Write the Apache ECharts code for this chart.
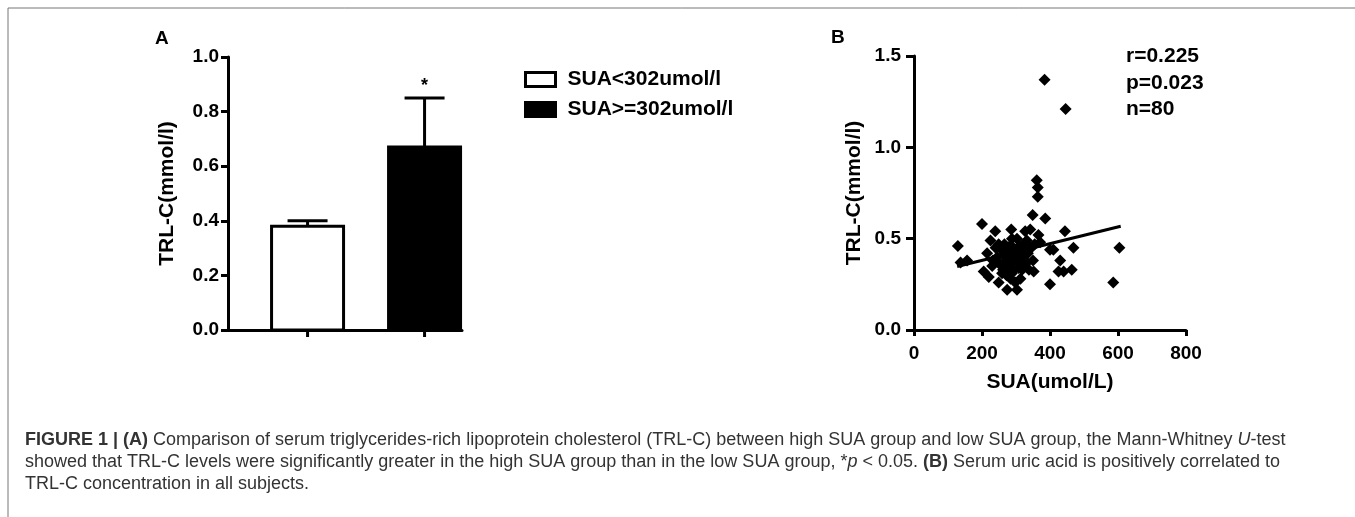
<!DOCTYPE html>
<html>
<head>
<meta charset="utf-8">
<script src="https://cdn.jsdelivr.net/npm/echarts@6/dist/echarts.min.js"></script>
<style>
  html, body { margin: 0; padding: 0; background: #fff; }
  #main { width: 1355px; height: 517px; }
</style>
</head>
<body>
<div id="main"></div>
<script>
// panel A: group means with upper error (mean + SEM)
var groups = ['SUA<302umol/l', 'SUA>=302umol/l'];
var groupMeans = [0.38, 0.67];
var groupUpper = [0.40, 0.85];
var groupSig = ['', '*'];

// panel B: SUA (umol/L) vs TRL-C (mmol/l)
var suaPoints = [
  [384, 1.37], [446, 1.21],
  [361, 0.82], [364, 0.78], [364, 0.73],
  [349, 0.63], [386, 0.61], [200, 0.58],
  [129, 0.46], [137, 0.37], [156, 0.38],
  [239, 0.54], [286, 0.55], [327, 0.54], [342, 0.55], [366, 0.52],
  [225, 0.49], [288, 0.50], [303, 0.50], [249, 0.47], [332, 0.49],
  [205, 0.32], [220, 0.29], [230, 0.35], [249, 0.26], [274, 0.22], [303, 0.22],
  [313, 0.28], [352, 0.32], [332, 0.37], [400, 0.25], [279, 0.39], [288, 0.42],
  [264, 0.41], [308, 0.34], [259, 0.31], [288, 0.31], [371, 0.48], [400, 0.44],
  [444, 0.54], [410, 0.44], [469, 0.45], [604, 0.45], [430, 0.38], [425, 0.32],
  [440, 0.32], [464, 0.33], [586, 0.26],
  [240, 0.45], [245, 0.40], [252, 0.36], [258, 0.44], [262, 0.33], [266, 0.47],
  [270, 0.38], [272, 0.30], [276, 0.43], [280, 0.35], [282, 0.46], [284, 0.28],
  [290, 0.37], [292, 0.45], [294, 0.33], [296, 0.40], [298, 0.26], [300, 0.43],
  [305, 0.38], [310, 0.46], [315, 0.40], [318, 0.33], [320, 0.44], [325, 0.36],
  [328, 0.48], [335, 0.42], [338, 0.33], [345, 0.45], [350, 0.38], [355, 0.47],
  [232, 0.38], [215, 0.42]
];
var fitLine = [[127, 0.348], [608, 0.568]];
var statLines = ['r=0.225', 'p=0.023', 'n=80'];

var captionLines = [
  '{b|FIGURE 1 | (A)} Comparison of serum triglycerides-rich lipoprotein cholesterol (TRL-C) between high SUA group and low SUA group, the Mann-Whitney {i|U}-test',
  'showed that TRL-C levels were significantly greater in the high SUA group than in the low SUA group, *{i|p} < 0.05. {b|(B)} Serum uric acid is positively correlated to',
  'TRL-C concentration in all subjects.'
];

var FONT = '"Liberation Sans", Arial, Helvetica, sans-serif';
var boldText = { fontFamily: FONT, fontWeight: 'bold', fontSize: 19, color: '#000' };

var chart = echarts.init(document.getElementById('main'));

// bar + upward error bar + x tick, GraphPad style
function renderBar(params, api) {
  var gx = api.value(0) + 0.68;
  var base = api.coord([gx, 0]);
  var top = api.coord([gx, api.value(1)]);
  var err = api.coord([gx, api.value(2)]);
  var halfW = 36;
  var fill = params.seriesIndex === 0 ? '#fff' : '#000';
  var children = [
    { type: 'line', shape: { x1: top[0], y1: top[1], x2: err[0], y2: err[1] },
      style: { stroke: '#000', lineWidth: 3 } },
    { type: 'line', shape: { x1: err[0] - 20, y1: err[1], x2: err[0] + 20, y2: err[1] },
      style: { stroke: '#000', lineWidth: 3 } },
    { type: 'rect', shape: { x: base[0] - halfW, y: top[1], width: halfW * 2, height: base[1] - top[1] },
      style: { fill: fill, stroke: '#000', lineWidth: 3 } },
    { type: 'line', shape: { x1: base[0], y1: base[1], x2: base[0], y2: base[1] + 7 },
      style: { stroke: '#000', lineWidth: 3 } }
  ];
  var sig = groupSig[api.value(0)];
  if (sig) {
    children.push({ type: 'text', x: err[0], y: err[1] - 12,
      style: { text: sig, fontFamily: FONT, fontWeight: 'bold', fontSize: 18, fill: '#000',
        align: 'center', verticalAlign: 'middle' } });
  }
  return { type: 'group', children: children };
}

var barSeries = groups.map(function (g, i) {
  return {
    name: g,
    type: 'custom',
    xAxisIndex: 0,
    yAxisIndex: 0,
    renderItem: renderBar,
    itemStyle: { color: i === 0 ? '#fff' : '#000', borderColor: '#000', borderWidth: 3 },
    data: [[i, groupMeans[i], groupUpper[i]]],
    encode: { x: 0, y: [1, 2] },
    z: 3
  };
});

var graphics = [
  { type: 'line', shape: { x1: 8, y1: 8, x2: 1355, y2: 8 }, style: { stroke: '#777', lineWidth: 1 } },
  { type: 'line', shape: { x1: 8, y1: 8, x2: 8, y2: 517 }, style: { stroke: '#777', lineWidth: 1 } },
  { type: 'text', left: 155, top: 29, style: { text: 'A', font: 'bold 19px ' + FONT, fill: '#000' } },
  { type: 'text', left: 831, top: 28, style: { text: 'B', font: 'bold 19px ' + FONT, fill: '#000' } }
];
statLines.forEach(function (s, i) {
  graphics.push({ type: 'text', left: 1126, top: 46 + i * 26.5,
    style: { text: s, font: 'bold 21px ' + FONT, fill: '#000' } });
});
captionLines.forEach(function (s, i) {
  graphics.push({ type: 'text', left: 25, top: 431 + i * 22,
    style: {
      text: s, fontFamily: FONT, fontSize: 18, fill: '#333',
      rich: {
        b: { fontFamily: FONT, fontSize: 18, fontWeight: 'bold', color: '#333' },
        i: { fontFamily: FONT, fontSize: 18, fontStyle: 'italic', color: '#333' }
      }
    } });
});

var axisLineBlack = { show: true, lineStyle: { color: '#000', width: 3 } };
var nameStyle = { fontFamily: FONT, fontWeight: 'bold', fontSize: 21, color: '#000' };

chart.setOption({
  animation: false,
  backgroundColor: '#fff',
  legend: {
    orient: 'vertical',
    left: 519,
    top: 64,
    itemWidth: 30,
    itemHeight: 14,
    itemGap: 9,
    icon: 'rect',
    textStyle: { fontFamily: FONT, fontWeight: 'bold', fontSize: 21, color: '#000', padding: [0, 0, 0, 7] },
    data: [
      { name: groups[0], itemStyle: { color: '#fff', borderColor: '#000', borderWidth: 3 } },
      { name: groups[1], itemStyle: { color: '#000', borderColor: '#000', borderWidth: 3 } }
    ]
  },
  grid: [
    { left: 228, top: 57, width: 234, height: 273 },
    { left: 914, top: 56, width: 272, height: 274 }
  ],
  xAxis: [
    { type: 'value', gridIndex: 0, min: 0, max: 2,
      axisLine: axisLineBlack, axisTick: { show: false }, axisLabel: { show: false },
      splitLine: { show: false } },
    { type: 'value', gridIndex: 1, min: 0, max: 800, interval: 200,
      name: 'SUA(umol/L)', nameLocation: 'middle', nameGap: 42,
      nameTextStyle: nameStyle,
      axisLine: axisLineBlack,
      axisTick: { show: true, length: 6, lineStyle: { color: '#000', width: 3 } },
      axisLabel: Object.assign({ margin: 14 }, boldText),
      splitLine: { show: false } }
  ],
  yAxis: [
    { type: 'value', gridIndex: 0, min: 0, max: 1, interval: 0.2,
      name: 'TRL-C(mmol/l)', nameLocation: 'middle', nameGap: 50,
      nameTextStyle: nameStyle,
      axisLine: axisLineBlack,
      axisTick: { show: true, length: 7, lineStyle: { color: '#000', width: 3 } },
      axisLabel: Object.assign({ margin: 9, formatter: function (v) { return v.toFixed(1); } }, boldText),
      splitLine: { show: false } },
    { type: 'value', gridIndex: 1, min: 0, max: 1.5, interval: 0.5,
      name: 'TRL-C(mmol/l)', nameLocation: 'middle', nameGap: 49,
      nameTextStyle: nameStyle,
      axisLine: axisLineBlack,
      axisTick: { show: true, length: 8, lineStyle: { color: '#000', width: 3 } },
      axisLabel: Object.assign({ margin: 13, formatter: function (v) { return v.toFixed(1); } }, boldText),
      splitLine: { show: false } }
  ],
  series: barSeries.concat([
    {
      name: 'SUA vs TRL-C',
      type: 'scatter',
      xAxisIndex: 1,
      yAxisIndex: 1,
      symbol: 'diamond',
      symbolSize: 12,
      itemStyle: { color: '#000', opacity: 1 },
      data: suaPoints,
      z: 3
    },
    {
      name: 'fit',
      type: 'line',
      xAxisIndex: 1,
      yAxisIndex: 1,
      symbol: 'none',
      lineStyle: { color: '#000', width: 3 },
      data: fitLine,
      z: 4
    }
  ]),
  graphic: graphics
});
</script>
</body>
</html>
